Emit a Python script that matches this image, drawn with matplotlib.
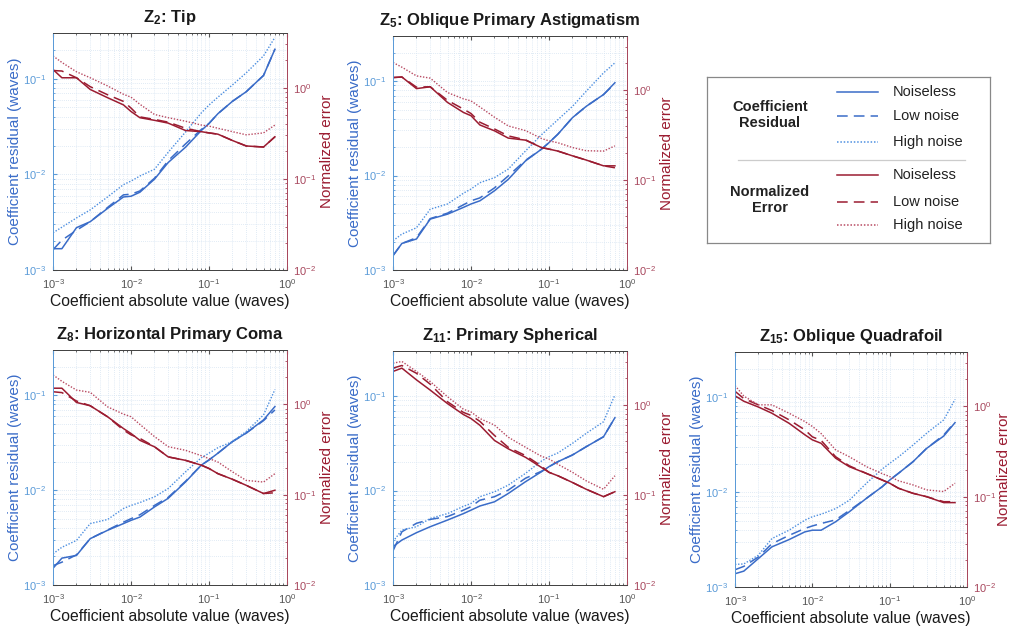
import matplotlib
matplotlib.use("Agg")
import matplotlib.pyplot as plt
from matplotlib.ticker import LogLocator, NullFormatter
from matplotlib.lines import Line2D

plt.rcParams['font.family'] = ['Liberation Sans', 'DejaVu Sans']
plt.rcParams['mathtext.fontset'] = 'custom'
plt.rcParams['mathtext.rm'] = 'Liberation Sans'
plt.rcParams['mathtext.bf'] = 'Liberation Sans:bold'
plt.rcParams['mathtext.it'] = 'Liberation Sans:italic'

# ---------------- data ----------------
x_vals = [1e-3, 1.3e-3, 2e-3, 3e-3, 5e-3, 8e-3, 1e-2, 1.3e-2, 2e-2, 3e-2,
          5e-2, 8e-2, 0.1, 0.13, 0.2, 0.3, 0.5, 0.7]

titles = [r"$\mathbf{Z_{2}}$: Tip", r"$\mathbf{Z_{5}}$: Oblique Primary Astigmatism",
          r"$\mathbf{Z_{8}}$: Horizontal Primary Coma", r"$\mathbf{Z_{11}}$: Primary Spherical",
          r"$\mathbf{Z_{15}}$: Oblique Quadrafoil"]

# Coefficient residual (waves) -- noiseless / low noise / high noise
z2_res_noiseless = [1.67e-3, 1.67e-3, 2.77e-3, 3.2e-3, 4.4e-3, 5.8e-3, 5.9e-3, 6.5e-3, 8.9e-3, 1.33e-2,
                    1.92e-2, 2.88e-2, 3.4e-2, 4.3e-2, 5.8e-2, 7.3e-2, 0.108, 0.203]
z2_res_low = [1.63e-3, 2.05e-3, 2.6e-3, 3.2e-3, 4.5e-3, 6.1e-3, 6.2e-3, 6.7e-3, 9.1e-3, 1.39e-2,
              2.08e-2, 2.95e-2, 3.4e-2, 4.3e-2, 5.8e-2, 7.3e-2, 0.108, 0.203]
z2_res_high = [2.45e-3, 2.8e-3, 3.5e-3, 4.25e-3, 5.8e-3, 7.8e-3, 8.5e-3, 9.6e-3, 1.13e-2, 1.7e-2,
               2.77e-2, 4.4e-2, 5.3e-2, 6.4e-2, 8.6e-2, 0.115, 0.173, 0.27]

z5_res_noiseless = [1.42e-3, 1.91e-3, 2.13e-3, 3.46e-3, 3.9e-3, 4.6e-3, 5.0e-3, 5.4e-3, 6.9e-3, 9.1e-3,
                    1.43e-2, 1.9e-2, 2.23e-2, 2.74e-2, 4.1e-2, 5.4e-2, 7.2e-2, 9.6e-2]
z5_res_low = [1.42e-3, 1.91e-3, 2.2e-3, 3.5e-3, 4.0e-3, 4.9e-3, 5.4e-3, 5.8e-3, 7.4e-3, 9.9e-3,
              1.45e-2, 1.9e-2, 2.23e-2, 2.74e-2, 4.1e-2, 5.4e-2, 7.2e-2, 9.4e-2]
z5_res_high = [2.04e-3, 2.4e-3, 2.8e-3, 4.4e-3, 5.0e-3, 6.5e-3, 7.2e-3, 8.4e-3, 9.5e-3, 1.17e-2,
               1.82e-2, 2.7e-2, 3.2e-2, 3.9e-2, 5.4e-2, 7.8e-2, 0.122, 0.156]

z8_res_noiseless = [1.5e-3, 1.92e-3, 2.05e-3, 3.08e-3, 3.77e-3, 4.44e-3, 4.8e-3, 5.2e-3, 6.65e-3, 8.2e-3,
                    1.22e-2, 1.84e-2, 2.08e-2, 2.45e-2, 3.25e-2, 4.0e-2, 5.5e-2, 7.6e-2]
z8_res_low = [1.6e-3, 1.74e-3, 2.08e-3, 3.08e-3, 3.8e-3, 4.6e-3, 5.0e-3, 5.5e-3, 6.9e-3, 8.4e-3,
              1.24e-2, 1.84e-2, 2.08e-2, 2.45e-2, 3.25e-2, 4.0e-2, 5.4e-2, 7.0e-2]
z8_res_high = [2.13e-3, 2.5e-3, 2.95e-3, 4.44e-3, 4.9e-3, 6.4e-3, 6.9e-3, 7.4e-3, 8.5e-3, 1.04e-2,
               1.56e-2, 2.2e-2, 2.45e-2, 2.8e-2, 3.25e-2, 4.15e-2, 6.2e-2, 0.115]

z11_res_noiseless = [2.55e-3, 2.99e-3, 3.58e-3, 4.14e-3, 4.87e-3, 5.7e-3, 6.2e-3, 6.86e-3, 7.6e-3, 9.3e-3,
                     1.24e-2, 1.58e-2, 1.79e-2, 2.02e-2, 2.38e-2, 2.91e-2, 3.71e-2, 5.9e-2]
z11_res_low = [2.3e-3, 3.66e-3, 4.5e-3, 4.95e-3, 5.3e-3, 6.2e-3, 6.75e-3, 7.9e-3, 8.6e-3, 1.01e-2,
               1.35e-2, 1.6e-2, 1.79e-2, 2.02e-2, 2.38e-2, 2.91e-2, 3.71e-2, 5.9e-2]
z11_res_high = [2.88e-3, 3.82e-3, 4.14e-3, 5.07e-3, 5.7e-3, 6.8e-3, 7.3e-3, 8.6e-3, 9.7e-3, 1.14e-2,
                1.52e-2, 2.05e-2, 2.28e-2, 2.5e-2, 3.16e-2, 4.03e-2, 5.35e-2, 0.103]

z15_res_noiseless = [1.38e-3, 1.47e-3, 1.99e-3, 2.65e-3, 3.16e-3, 3.81e-3, 3.97e-3, 3.97e-3, 4.87e-3, 6.2e-3,
                     8.6e-3, 1.14e-2, 1.34e-2, 1.58e-2, 2.09e-2, 2.89e-2, 3.9e-2, 5.4e-2]
z15_res_low = [1.52e-3, 1.65e-3, 2.07e-3, 2.86e-3, 3.5e-3, 4.14e-3, 4.4e-3, 4.67e-3, 5.1e-3, 6.4e-3,
               8.6e-3, 1.14e-2, 1.34e-2, 1.58e-2, 2.09e-2, 2.89e-2, 4.0e-2, 5.5e-2]
z15_res_high = [1.73e-3, 1.75e-3, 2.16e-3, 3.24e-3, 3.97e-3, 5.06e-3, 5.5e-3, 5.85e-3, 6.7e-3, 8.2e-3,
                1.24e-2, 1.75e-2, 2.01e-2, 2.35e-2, 3.13e-2, 4.17e-2, 5.77e-2, 9.5e-2]

# Normalized error -- noiseless / low noise / high noise
z2_err_noiseless = [1.59, 1.29, 1.29, 0.96, 0.78, 0.65, 0.55, 0.47, 0.44, 0.41,
                    0.34, 0.33, 0.32, 0.31, 0.264, 0.23, 0.224, 0.29]
z2_err_low = [1.55, 1.53, 1.29, 1.03, 0.84, 0.71, 0.6, 0.48, 0.45, 0.42,
              0.36, 0.33, 0.32, 0.31, 0.264, 0.23, 0.224, 0.29]
z2_err_high = [2.24, 1.9, 1.5, 1.29, 1.05, 0.85, 0.79, 0.66, 0.51, 0.47,
               0.43, 0.39, 0.38, 0.36, 0.33, 0.305, 0.32, 0.39]

z5_err_noiseless = [1.38, 1.40, 1.04, 1.09, 0.73, 0.565, 0.52, 0.41, 0.353, 0.293,
                    0.278, 0.23, 0.221, 0.21, 0.186, 0.167, 0.144, 0.144]
z5_err_low = [1.38, 1.40, 1.08, 1.09, 0.77, 0.615, 0.55, 0.44, 0.37, 0.31,
              0.28, 0.23, 0.221, 0.21, 0.186, 0.167, 0.144, 0.137]
z5_err_high = [2.03, 1.8, 1.44, 1.36, 0.94, 0.8, 0.76, 0.65, 0.5, 0.40,
               0.355, 0.29, 0.273, 0.26, 0.23, 0.212, 0.21, 0.24]

z8_err_noiseless = [1.51, 1.51, 1.05, 0.966, 0.73, 0.54, 0.476, 0.40, 0.339, 0.262,
                    0.24, 0.212, 0.195, 0.171, 0.148, 0.127, 0.103, 0.112]
z8_err_low = [1.38, 1.35, 1.09, 0.966, 0.73, 0.52, 0.46, 0.42, 0.34, 0.262,
              0.24, 0.212, 0.195, 0.171, 0.148, 0.127, 0.103, 0.105]
z8_err_high = [2.12, 1.8, 1.44, 1.36, 0.94, 0.78, 0.73, 0.6, 0.44, 0.34,
               0.31, 0.27, 0.251, 0.23, 0.179, 0.144, 0.138, 0.171]

z11_err_noiseless = [2.37, 2.58, 1.91, 1.47, 1.04, 0.786, 0.71, 0.597, 0.405, 0.327,
                     0.263, 0.203, 0.179, 0.164, 0.138, 0.116, 0.096, 0.109]
z11_err_low = [2.58, 2.76, 2.26, 1.71, 1.09, 0.83, 0.77, 0.66, 0.46, 0.34,
               0.275, 0.21, 0.179, 0.164, 0.138, 0.116, 0.096, 0.109]
z11_err_high = [2.93, 3.06, 2.37, 1.83, 1.24, 0.9, 0.84, 0.71, 0.6, 0.44,
                0.34, 0.27, 0.252, 0.22, 0.179, 0.144, 0.116, 0.164]

z15_err_noiseless = [1.31, 1.14, 0.985, 0.84, 0.65, 0.485, 0.426, 0.39, 0.267, 0.215,
                     0.181, 0.153, 0.141, 0.124, 0.109, 0.1, 0.086, 0.086]
z15_err_low = [1.47, 1.22, 1.04, 0.9, 0.71, 0.55, 0.46, 0.42, 0.277, 0.22,
               0.181, 0.153, 0.141, 0.124, 0.109, 0.1, 0.088, 0.088]
z15_err_high = [1.70, 1.3, 1.04, 1.04, 0.84, 0.68, 0.6, 0.5, 0.33, 0.277,
                0.215, 0.18, 0.167, 0.15, 0.135, 0.119, 0.114, 0.141]

residuals = [(z2_res_noiseless, z2_res_low, z2_res_high),
             (z5_res_noiseless, z5_res_low, z5_res_high),
             (z8_res_noiseless, z8_res_low, z8_res_high),
             (z11_res_noiseless, z11_res_low, z11_res_high),
             (z15_res_noiseless, z15_res_low, z15_res_high)]
errors = [(z2_err_noiseless, z2_err_low, z2_err_high),
          (z5_err_noiseless, z5_err_low, z5_err_high),
          (z8_err_noiseless, z8_err_low, z8_err_high),
          (z11_err_noiseless, z11_err_low, z11_err_high),
          (z15_err_noiseless, z15_err_low, z15_err_high)]

legend_labels = ["Noiseless", "Low noise", "High noise"]

# ---------------- style ----------------
BLUE = "#3a6cc8"
BLUE_DOT = "#4d8fe0"
BLUE_AX = "#5b9bd8"
RED = "#9b1c31"
RED_DOT = "#b84a62"
RED_AX = "#a8485e"
GRID = "#d6e4f2"
styles = ["-", (0, (7, 4)), (0, (1, 1.2))]

W, H = 1011, 626
fig = plt.figure(figsize=(W / 100, H / 100), dpi=100)

# pixel boxes: left, top, right, bottom
boxes = [(53, 33, 287, 270), (393, 36, 627, 270),
         (53, 350, 287, 585), (393, 351, 627, 585), (735, 352, 967, 587)]


def add_axes_px(l, t, r, b):
    return fig.add_axes([l / W, 1 - b / H, (r - l) / W, (b - t) / H])


for i, (l, t, r, b) in enumerate(boxes):
    ax = add_axes_px(l, t, r, b)
    ax2 = ax.twinx()
    ax.set_xscale("log")
    ax.set_yscale("log")
    ax2.set_yscale("log")
    ax.set_xlim(1e-3, 1)
    ax.set_ylim(1e-3, 0.3)
    ax2.set_ylim(1e-2, 4)

    # grid
    ax.grid(True, which="major", color=GRID, lw=0.6, ls=(0, (1, 1.5)))
    ax.grid(True, which="minor", color=GRID, lw=0.6, ls=(0, (1, 1.5)))
    ax.set_axisbelow(True)

    res = residuals[i]
    err = errors[i]
    for k in range(3):
        c = BLUE if k < 2 else BLUE_DOT
        ax.plot(x_vals, res[k], color=c, ls=styles[k], lw=1.1 if k < 2 else 1.0)
    for k in range(3):
        c = RED if k < 2 else RED_DOT
        ax2.plot(x_vals, err[k], color=c, ls=styles[k], lw=1.1 if k < 2 else 1.0)

    # spines
    for a in (ax, ax2):
        a.spines["top"].set_color("#444444")
        a.spines["bottom"].set_color("#444444")
        a.spines["left"].set_color(BLUE_AX)
        a.spines["right"].set_color(RED_AX)
        for s in a.spines.values():
            s.set_linewidth(0.7)

    ax.tick_params(axis="x", which="both", direction="in", colors="#555555",
                   labelsize=8, pad=5, top=True)
    ax.tick_params(axis="x", which="major", length=3)
    ax.tick_params(axis="x", which="minor", length=1.5)
    ax.tick_params(axis="y", which="both", direction="in", colors=BLUE_AX,
                   labelsize=8, pad=5)
    ax.tick_params(axis="y", which="major", length=3)
    ax.tick_params(axis="y", which="minor", length=1.5)
    ax2.tick_params(axis="y", which="both", direction="in", colors=RED_AX,
                    labelsize=8, pad=4)
    ax2.tick_params(axis="y", which="major", length=3)
    ax2.tick_params(axis="y", which="minor", length=1.5)

    ax.xaxis.set_major_locator(LogLocator(base=10, numticks=10))
    ax.xaxis.set_minor_locator(LogLocator(base=10, subs=range(2, 10), numticks=20))
    ax.xaxis.set_minor_formatter(NullFormatter())
    ax.yaxis.set_minor_formatter(NullFormatter())
    ax2.yaxis.set_minor_formatter(NullFormatter())

    ax.set_xlabel("Coefficient absolute value (waves)", fontsize=11.3,
                  color="#1a1a1a", labelpad=2)
    ax.set_ylabel("Coefficient residual (waves)", fontsize=11, color=BLUE, labelpad=1)
    ax2.set_ylabel("Normalized error", fontsize=11, color=RED,
                   labelpad=1 if i == 4 else 3)
    ax.set_title(titles[i], fontsize=12, fontweight="bold", color="#1a1a1a", pad=8)

# ---------------- legend box ----------------
lax = add_axes_px(707, 77, 990, 243)
lax.set_xlim(0, 283)
lax.set_ylim(166, 0)
lax.set_xticks([])
lax.set_yticks([])
for s in lax.spines.values():
    s.set_color("#888888")
    s.set_linewidth(0.9)

row_y_top = [15, 39, 65]
row_y_bot = [98, 125, 148]
for k in range(3):
    lax.add_line(Line2D([130, 171], [row_y_top[k], row_y_top[k]],
                        color=BLUE if k < 2 else BLUE_DOT, ls=styles[k], lw=1.1))
    lax.text(186, row_y_top[k], legend_labels[k], fontsize=10.5, va="center",
             ha="left", color="#222222")
    lax.add_line(Line2D([130, 171], [row_y_bot[k], row_y_bot[k]],
                        color=RED if k < 2 else RED_DOT, ls=styles[k], lw=1.1))
    lax.text(186, row_y_bot[k], legend_labels[k], fontsize=10.5, va="center",
             ha="left", color="#222222")

lax.add_line(Line2D([31, 258], [83, 83], color="#cccccc", lw=0.9))
lax.text(63, 38, "Coefficient\nResidual", fontsize=10.5, fontweight="bold",
         ha="center", va="center", color="#222222", linespacing=1.1)
lax.text(63, 123, "Normalized\nError", fontsize=10.5, fontweight="bold",
         ha="center", va="center", color="#222222", linespacing=1.1)

fig.savefig("out.png", dpi=100)
